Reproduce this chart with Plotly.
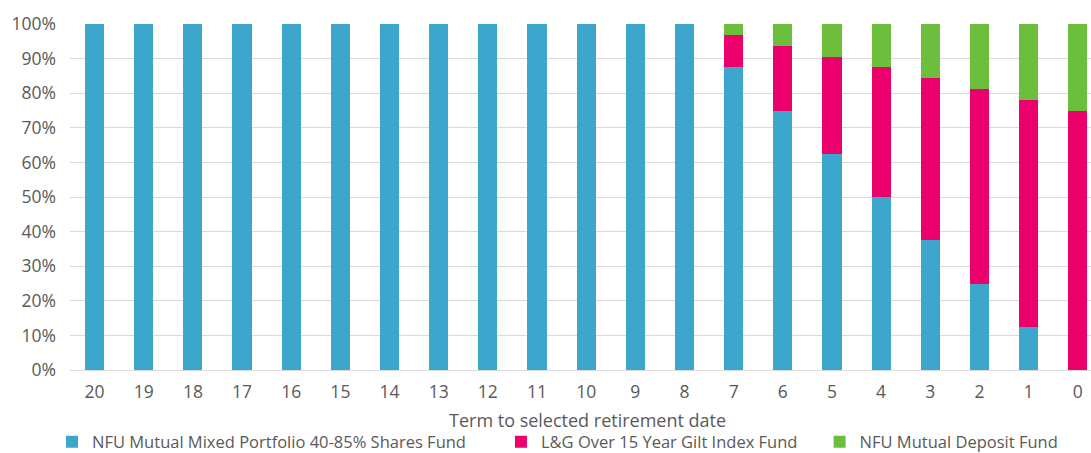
import plotly.graph_objects as go

terms = ["20", "19", "18", "17", "16", "15", "14", "13", "12", "11", "10",
         "9", "8", "7", "6", "5", "4", "3", "2", "1", "0"]
mixed = [100, 100, 100, 100, 100, 100, 100, 100, 100, 100, 100,
         100, 100, 87.5, 75, 62.5, 50, 37.5, 25, 12.5, 0]
gilt = [0, 0, 0, 0, 0, 0, 0, 0, 0, 0, 0,
        0, 0, 9.4, 18.75, 28.1, 37.5, 46.9, 56.25, 65.6, 75]
deposit = [0, 0, 0, 0, 0, 0, 0, 0, 0, 0, 0,
           0, 0, 3.1, 6.25, 9.4, 12.5, 15.6, 18.75, 21.9, 25]
series_names = ["NFU Mutual Mixed Portfolio 40-85% Shares Fund",
                "L&G Over 15 Year Gilt Index Fund",
                "NFU Mutual Deposit Fund"]
colors = ["#3DA6CC", "#EC006C", "#6CBF3C"]
y_ticks = list(range(0, 101, 10))
y_labels = [f"{v}%" for v in y_ticks]
x_title = "Term to selected retirement date"

FONT = "Open Sans"
GREY = "#595959"
NB = "\u00a0"
legend_pad = [NB * 7, NB * 4, ""]

fig = go.Figure()
for name, pad, vals, col in zip(series_names, legend_pad,
                                [mixed, gilt, deposit], colors):
    fig.add_trace(go.Bar(x=terms, y=vals, name=name + pad, marker_color=col,
                         marker_line_width=0))

fig.update_layout(
    barmode="stack",
    bargap=0.61,
    width=1091, height=453,
    margin=dict(l=70, r=0, t=24, b=83, autoexpand=False),
    plot_bgcolor="white", paper_bgcolor="white",
    font=dict(family=FONT, color=GREY, size=17),
    xaxis=dict(
        type="category", range=[-0.5, 20.27],
        showgrid=False, showline=True, linecolor="#D9D9D9", linewidth=1,
        ticks="", tickfont=dict(size=17.5, color=GREY),
        ticklabelstandoff=6,
    ),
    yaxis=dict(
        range=[0, 100], tickvals=y_ticks, ticktext=y_labels,
        showgrid=True, gridcolor="#D9D9D9", gridwidth=1,
        zeroline=False, ticks="", tickfont=dict(size=17.5, color=GREY),
        ticklabelstandoff=13,
    ),
    legend=dict(orientation="h", x=-0.0176, xanchor="left", y=-0.208,
                yanchor="middle", font=dict(size=16.5, color=GREY),
                traceorder="normal", itemwidth=30,
                bgcolor="rgba(0,0,0,0)"),
    showlegend=True,
    annotations=[dict(text=x_title, xref="paper", yref="paper",
                      x=0.507, y=-0.145, xanchor="center", yanchor="middle",
                      showarrow=False, font=dict(size=18, color=GREY))],
)

fig.write_html("out.html", config={"displayModeBar": False},
               post_script="document.body.style.margin='0';")
